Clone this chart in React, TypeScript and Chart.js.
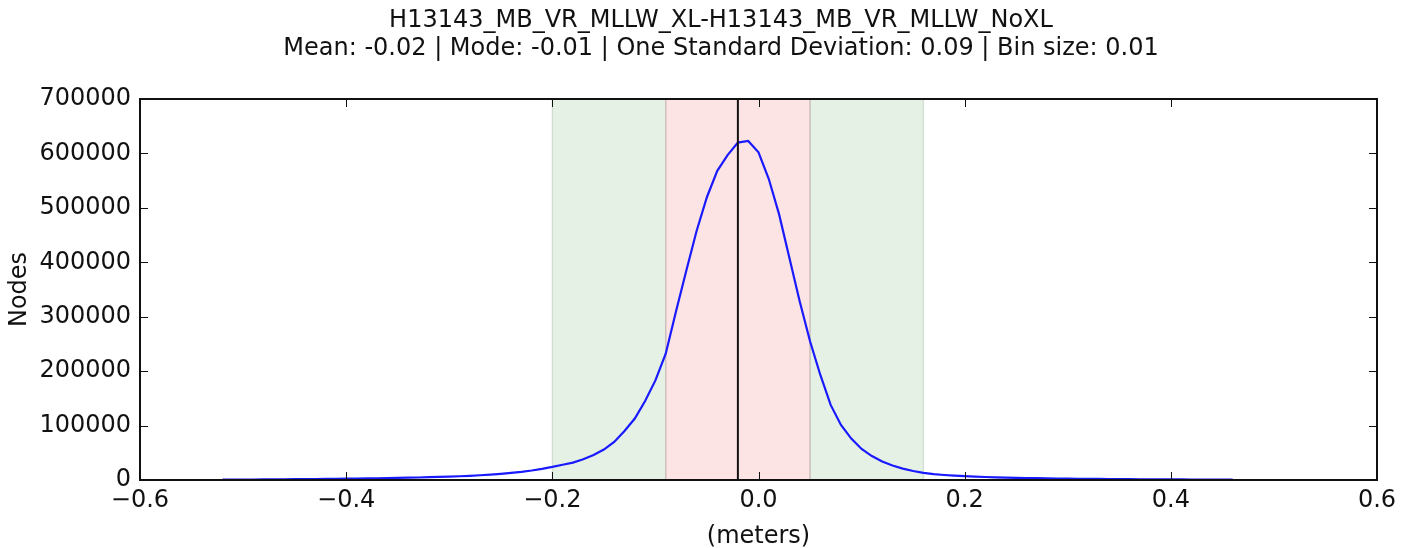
import React, { useEffect, useRef } from "react";
import { Chart, registerables } from "chart.js";

Chart.register(...registerables);

const titleLines = [
  "H13143_MB_VR_MLLW_XL-H13143_MB_VR_MLLW_NoXL",
  "Mean: -0.02 | Mode: -0.01 | One Standard Deviation: 0.09 | Bin size: 0.01",
];
const xAxisTitle = "(meters)";
const yAxisTitle = "Nodes";

const binCenters = [
  -0.52, -0.51, -0.5, -0.49, -0.48, -0.47, -0.46, -0.45, -0.44, -0.43,
  -0.42, -0.41, -0.4, -0.39, -0.38, -0.37, -0.36, -0.35, -0.34, -0.33,
  -0.32, -0.31, -0.3, -0.29, -0.28, -0.27, -0.26, -0.25, -0.24, -0.23,
  -0.22, -0.21, -0.2, -0.19, -0.18, -0.17, -0.16, -0.15, -0.14, -0.13,
  -0.12, -0.11, -0.1, -0.09, -0.08, -0.07, -0.06, -0.05, -0.04, -0.03,
  -0.02, -0.01, 0.0, 0.01, 0.02, 0.03, 0.04, 0.05, 0.06, 0.07,
  0.08, 0.09, 0.1, 0.11, 0.12, 0.13, 0.14, 0.15, 0.16, 0.17,
  0.18, 0.19, 0.2, 0.21, 0.22, 0.23, 0.24, 0.25, 0.26, 0.27,
  0.28, 0.29, 0.3, 0.31, 0.32, 0.33, 0.34, 0.35, 0.36, 0.37,
  0.38, 0.39, 0.4, 0.41, 0.42, 0.43, 0.44, 0.45, 0.46,
];

const nodeCounts = [
  650, 750, 850, 950, 1050, 1150, 1300, 1450, 1600, 1750,
  1950, 2150, 2350, 2600, 2850, 3150, 3450, 3800, 4200, 4600,
  5100, 5600, 6200, 6900, 7700, 8700, 9900, 11300, 13000, 15000,
  17500, 20500, 24000, 28000, 32000, 38000, 46000, 56000, 70000, 90000,
  113000, 145000, 183000, 232000, 310000, 385000, 458000, 520000, 568000, 597000,
  620000, 623000, 602000, 553000, 488000, 408000, 328000, 255000, 193000, 138000,
  101000, 76000, 57000, 44000, 34000, 26500, 21000, 16500, 13000, 10800,
  9200, 8000, 7000, 6200, 5500, 4900, 4400, 4000, 3600, 3300,
  3000, 2750, 2500, 2300, 2100, 1950, 1800, 1650, 1500, 1400,
  1300, 1200, 1100, 1000, 900, 800, 700, 650, 550,
];

const xTickValues = [-0.6, -0.4, -0.2, 0.0, 0.2, 0.4, 0.6];
const yTickValues = [0, 100000, 200000, 300000, 400000, 500000, 600000, 700000];

const twoSigmaBand = [-0.2, 0.16];
const oneSigmaBand = [-0.09, 0.05];
const meanValue = -0.02;

const FONT = '"DejaVu Sans", sans-serif';

const formatX = (v: number) => {
  const s = Math.abs(v) < 1e-9 ? "0.0" : v.toFixed(1);
  return s.replace("-", "\u2212");
};

const bandsPlugin = {
  id: "bands",
  beforeDatasetsDraw(chart: any) {
    const { ctx, chartArea, scales } = chart;
    const x = scales.x;
    const px = (v: number) => x.getPixelForValue(v);
    const top = chartArea.top;
    const h = chartArea.bottom - chartArea.top;
    ctx.save();
    ctx.beginPath();
    ctx.rect(chartArea.left, chartArea.top, chartArea.right - chartArea.left, h);
    ctx.clip();
    ctx.fillStyle = "rgb(229,241,229)";
    ctx.fillRect(px(twoSigmaBand[0]), top, px(oneSigmaBand[0]) - px(twoSigmaBand[0]), h);
    ctx.fillRect(px(oneSigmaBand[1]), top, px(twoSigmaBand[1]) - px(oneSigmaBand[1]), h);
    ctx.fillStyle = "rgb(253,228,228)";
    ctx.fillRect(px(oneSigmaBand[0]), top, px(oneSigmaBand[1]) - px(oneSigmaBand[0]), h);
    ctx.lineWidth = 1.5;
    ctx.strokeStyle = "rgba(0,70,0,0.13)";
    for (const v of twoSigmaBand) {
      ctx.beginPath();
      ctx.moveTo(px(v), chartArea.top);
      ctx.lineTo(px(v), chartArea.bottom);
      ctx.stroke();
    }
    ctx.strokeStyle = "rgba(60,30,30,0.22)";
    for (const v of oneSigmaBand) {
      ctx.beginPath();
      ctx.moveTo(px(v), chartArea.top);
      ctx.lineTo(px(v), chartArea.bottom);
      ctx.stroke();
    }
    ctx.restore();
  },
  afterDatasetsDraw(chart: any) {
    const { ctx, chartArea, scales } = chart;
    const xm = scales.x.getPixelForValue(meanValue);
    ctx.save();
    ctx.strokeStyle = "#111";
    ctx.lineWidth = 2;
    ctx.beginPath();
    ctx.moveTo(xm, chartArea.top);
    ctx.lineTo(xm, chartArea.bottom);
    ctx.stroke();
    ctx.restore();
  },
  afterDraw(chart: any) {
    const { ctx, chartArea, scales } = chart;
    const { left, right, top, bottom } = chartArea;
    ctx.save();
    ctx.strokeStyle = "#111";
    ctx.lineWidth = 1;
    const tl = 8;
    for (const t of scales.x.ticks) {
      const p = Math.round(scales.x.getPixelForValue(t.value)) + 0.5;
      ctx.beginPath();
      ctx.moveTo(p, bottom);
      ctx.lineTo(p, bottom - tl);
      ctx.moveTo(p, top);
      ctx.lineTo(p, top + tl);
      ctx.stroke();
    }
    for (const t of scales.y.ticks) {
      const p = Math.round(scales.y.getPixelForValue(t.value)) + 0.5;
      ctx.beginPath();
      ctx.moveTo(left, p);
      ctx.lineTo(left + tl, p);
      ctx.moveTo(right, p);
      ctx.lineTo(right - tl, p);
      ctx.stroke();
    }
    ctx.lineWidth = 2;
    ctx.strokeStyle = "#111";
    ctx.strokeRect(left, top, right - left, bottom - top);
    ctx.fillStyle = "#111";
    ctx.font = `24px ${FONT}`;
    ctx.textAlign = "center";
    ctx.textBaseline = "middle";
    const lineY = [21, 49];
    titleLines.forEach((line, i) => ctx.fillText(line, 721, lineY[i]));
    ctx.restore();
  },
};

export default function App() {
  const canvasRef = useRef<HTMLCanvasElement | null>(null);

  useEffect(() => {
    const canvas = canvasRef.current;
    if (!canvas) return;
    const chart = new Chart(canvas, {
      type: "line",
      data: {
        datasets: [
          {
            data: binCenters.map((x, i) => ({ x, y: nodeCounts[i] })),
            borderColor: "#1a1aff",
            borderWidth: 2.2,
            pointRadius: 0,
            fill: false,
            tension: 0,
          },
        ],
      },
      options: {
        animation: false,
        responsive: false,
        maintainAspectRatio: false,
        devicePixelRatio: 1,
        layout: { padding: { top: 99, right: 34, left: 0, bottom: 0 } },
        plugins: {
          legend: { display: false },
          title: { display: false },
          tooltip: { enabled: false },
        },
        scales: {
          x: {
            type: "linear",
            min: -0.6,
            max: 0.6,
            afterBuildTicks: (s: any) => {
              s.ticks = xTickValues.map((v) => ({ value: v }));
            },
            afterFit: (s: any) => {
              s.height = 68;
            },
            grid: { display: false, drawTicks: false },
            border: { display: false },
            ticks: {
              padding: 6,
              color: "#111",
              font: { family: FONT, size: 24 },
              maxRotation: 0,
              autoSkip: false,
              callback: (v: any) => formatX(Number(v)),
            },
            title: {
              display: true,
              text: xAxisTitle,
              color: "#111",
              font: { family: FONT, size: 24 },
              padding: { top: 0, bottom: -3 },
            },
          },
          y: {
            type: "linear",
            min: 0,
            max: 700000,
            afterBuildTicks: (s: any) => {
              s.ticks = yTickValues.map((v) => ({ value: v }));
            },
            afterFit: (s: any) => {
              s.width = 140;
            },
            grid: { display: false, drawTicks: false },
            border: { display: false },
            ticks: {
              padding: 9,
              color: "#111",
              font: { family: FONT, size: 24 },
              autoSkip: false,
              callback: (v: any) => String(v),
            },
            title: {
              display: true,
              text: yAxisTitle,
              color: "#111",
              font: { family: FONT, size: 24 },
              padding: { top: 5, bottom: 0 },
            },
          },
        },
      },
      plugins: [bandsPlugin],
    } as any);
    return () => chart.destroy();
  }, []);

  return (
    <div style={{ position: "fixed", left: 0, top: 0, width: 1411, height: 548, background: "#fff" }}>
      <canvas ref={canvasRef} width={1411} height={548} style={{ display: "block", width: 1411, height: 548 }} />
    </div>
  );
}
